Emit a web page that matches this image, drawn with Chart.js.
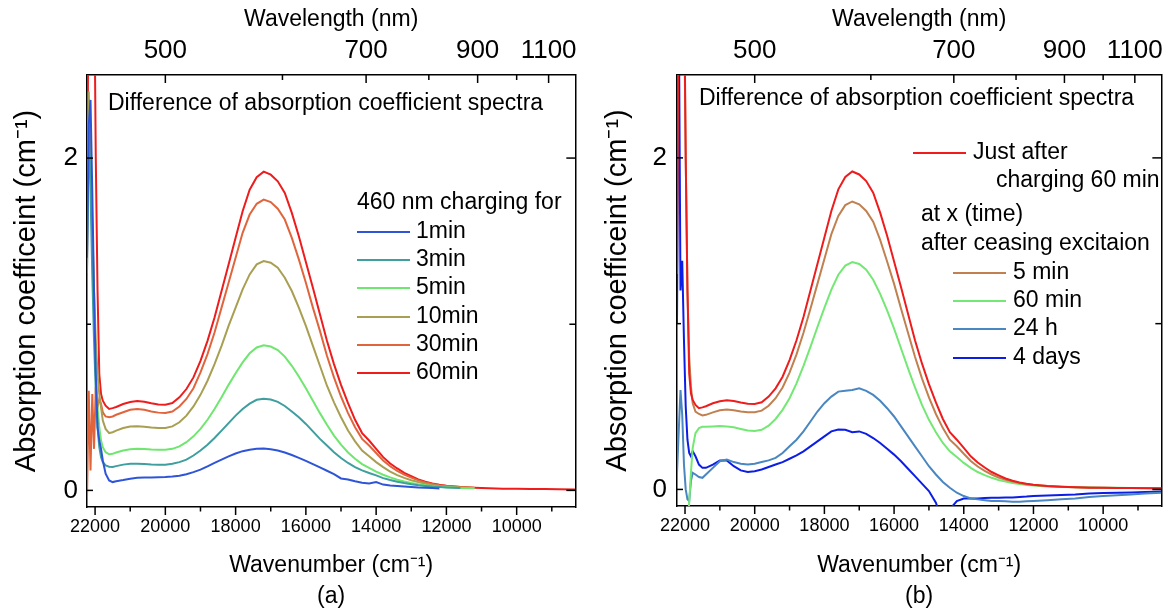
<!DOCTYPE html>
<html>
<head>
<meta charset="utf-8">
<title>Difference of absorption coefficient spectra</title>
<script src="https://cdn.jsdelivr.net/npm/chart.js@4.4.1/dist/chart.umd.min.js"></script>
<style>
  html, body { margin: 0; padding: 0; background: #fff; }
  #page { position: relative; width: 1172px; height: 612px; }
  canvas { position: absolute; top: 0; }
</style>
</head>
<body>
<div id="page">
  <canvas id="panelA" width="586" height="612" style="left:0"></canvas>
  <canvas id="panelB" width="586" height="612" style="left:586px"></canvas>
</div>
<script>
// wavenumber grid (cm-1) shared by every spectrum
const wavenumber = [
  22230, 22180, 22130, 22080, 22030, 21980, 21930, 21880, 21830, 21780,
  21700, 21600, 21500, 21400, 21200, 21000, 20800, 20600, 20400, 20200, 20000,
  19800, 19600, 19400, 19200, 19000, 18800, 18600, 18400, 18200, 18000,
  17800, 17600, 17400, 17200, 17000, 16800, 16600, 16400, 16200, 16000,
  15800, 15600, 15400, 15200, 15000, 14800, 14600, 14400, 14200, 14000,
  13800, 13600, 13400, 13200, 13000, 12800, 12600, 12400, 12200, 12000,
  11600, 11200, 10800, 10400, 10000, 9600, 9200, 8800, 8330
];

// (a) 460 nm charging for ...
const a_1min = [
  1.4, 2.2, 2.35, 1.8, 1.2, 0.7, 0.38, 0.3, 0.25, 0.18,
  0.1, 0.06, 0.05, 0.055, 0.062, 0.07, 0.076, 0.077, 0.078, 0.079, 0.08,
  0.083, 0.088, 0.097, 0.11, 0.125, 0.145, 0.165, 0.185, 0.205, 0.222,
  0.236, 0.245, 0.25, 0.252, 0.247, 0.24, 0.228, 0.213, 0.196, 0.178,
  0.158, 0.138, 0.118, 0.098, 0.072, 0.066, 0.055, 0.046, 0.042, 0.05,
  0.035, 0.03, 0.027, 0.024, 0.021, 0.018, 0.016, 0.014, 0.012, null,
  null, null, null, null, null, null, null, null, null
];
const a_3min = [
  1.3, 2.2, 1.8, 1.3, 0.9, 0.6, 0.38, 0.26, 0.2, 0.17,
  0.15, 0.142, 0.141, 0.146, 0.155, 0.16, 0.161, 0.159, 0.156, 0.155, 0.155,
  0.16, 0.17, 0.185, 0.21, 0.24, 0.275, 0.315, 0.36, 0.405, 0.45,
  0.49, 0.522, 0.545, 0.552, 0.547, 0.533, 0.508, 0.475, 0.44, 0.4,
  0.355, 0.31, 0.27, 0.23, 0.195, 0.165, 0.14, 0.12, 0.105, 0.09,
  0.074, 0.062, 0.052, 0.044, 0.037, 0.031, 0.027, 0.023, 0.02, 0.017,
  0.014, null, null, null, null, null, null, null, null
];
const a_5min = [
  1.5, 2.1, 1.9, 1.5, 1.1, 0.75, 0.5, 0.38, 0.3, 0.26,
  0.23, 0.217, 0.22, 0.228, 0.24, 0.248, 0.251, 0.249, 0.246, 0.244, 0.245,
  0.25, 0.265, 0.29, 0.325, 0.37, 0.425, 0.49, 0.56, 0.635, 0.705,
  0.77, 0.825, 0.86, 0.873, 0.866, 0.845, 0.805, 0.75, 0.685, 0.615,
  0.54, 0.465, 0.395, 0.33, 0.275, 0.228, 0.19, 0.158, 0.135, 0.113,
  0.094, 0.078, 0.064, 0.053, 0.044, 0.037, 0.031, 0.026, 0.022, 0.019,
  0.015, 0.013, null, null, null, null, null, null, null
];
const a_10min = [
  1.7, 2.4, 2.0, 1.6, 1.2, 0.9, 0.7, 0.58, 0.5, 0.42,
  0.37, 0.345, 0.35, 0.36, 0.375, 0.385, 0.386, 0.383, 0.378, 0.375, 0.375,
  0.385, 0.41, 0.45, 0.505, 0.575, 0.66, 0.76, 0.87, 0.99, 1.1,
  1.21, 1.3, 1.36, 1.38, 1.37, 1.34, 1.28, 1.2, 1.1, 0.99,
  0.87, 0.75, 0.63, 0.53, 0.44, 0.36, 0.295, 0.24, 0.205, 0.17,
  0.14, 0.113, 0.092, 0.075, 0.061, 0.05, 0.04, 0.033, 0.027, 0.023,
  0.018, 0.015, null, null, null, null, null, null, null
];
const a_30min = [
  -0.05, 0.6, 0.12, 0.58, 0.25, 0.62, 0.5, 0.55, 0.52, 0.47,
  0.445, 0.44, 0.445, 0.455, 0.47, 0.485, 0.49, 0.485, 0.475, 0.468, 0.466,
  0.475, 0.505, 0.55, 0.615, 0.71, 0.82, 0.95, 1.1, 1.25, 1.4,
  1.55, 1.66, 1.725, 1.75, 1.735, 1.695, 1.63, 1.52, 1.39, 1.25,
  1.1, 0.96, 0.81, 0.68, 0.565, 0.465, 0.38, 0.31, 0.27, 0.225,
  0.18, 0.145, 0.118, 0.095, 0.077, 0.06, 0.048, 0.038, 0.031, 0.026,
  0.02, 0.016, null, null, null, null, null, null, null
];
const a_60min = [
  1.3, 3.5, 3.5, 3.5, 3.2, 2.0, 1.2, 0.7, 0.58, 0.54,
  0.51, 0.49, 0.495, 0.502, 0.52, 0.532, 0.538, 0.534, 0.524, 0.517, 0.516,
  0.526, 0.56, 0.61, 0.68, 0.78, 0.9, 1.04, 1.2, 1.36, 1.52,
  1.68, 1.81, 1.885, 1.918, 1.9, 1.86, 1.79, 1.67, 1.53, 1.375,
  1.22, 1.06, 0.9, 0.76, 0.635, 0.525, 0.425, 0.345, 0.3, 0.25,
  0.2, 0.162, 0.132, 0.105, 0.085, 0.066, 0.052, 0.042, 0.034, 0.028,
  0.02, 0.016, 0.013, 0.01, 0.01, 0.008, 0.008, 0.007, 0.006
];

// (b) just after charging 60 min, then at x after ceasing excitation
const b_justAfter = a_60min;
const b_5min = [
  1.5, 3.5, 3.5, 3.5, 3.0, 2.0, 1.2, 0.8, 0.62, 0.52,
  0.47, 0.455, 0.446, 0.45, 0.465, 0.478, 0.482, 0.478, 0.47, 0.465, 0.466,
  0.475, 0.505, 0.55, 0.615, 0.705, 0.815, 0.945, 1.09, 1.24, 1.39,
  1.54, 1.65, 1.715, 1.737, 1.72, 1.68, 1.615, 1.505, 1.375, 1.24,
  1.09, 0.945, 0.8, 0.67, 0.555, 0.455, 0.37, 0.3, 0.26, 0.215,
  0.172, 0.138, 0.112, 0.09, 0.072, 0.058, 0.047, 0.038, 0.031, 0.026,
  0.02, 0.016, 0.013, 0.011, 0.01, 0.009, 0.009, 0.008, 0.008
];
const b_60min = [
  -0.3, -0.3, -0.3, -0.3, -0.3, -0.25, -0.2, -0.08, 0.1, 0.25,
  0.34, 0.37, 0.378, 0.378, 0.38, 0.382, 0.38, 0.375, 0.365, 0.355, 0.352,
  0.36, 0.385, 0.425, 0.48, 0.55, 0.64, 0.745, 0.86, 0.98, 1.095,
  1.205, 1.295, 1.35, 1.371, 1.36, 1.325, 1.265, 1.18, 1.08, 0.97,
  0.85, 0.73, 0.615, 0.51, 0.42, 0.345, 0.28, 0.23, 0.195, 0.16,
  0.13, 0.105, 0.086, 0.07, 0.057, 0.047, 0.039, 0.032, 0.027, 0.023,
  0.018, 0.015, 0.013, 0.011, 0.01, 0.01, 0.009, 0.009, 0.008
];
const b_24h = [
  0.1, 0.35, 0.6, 0.45, 0.15, 0.0, -0.06, -0.07, 0.05, 0.1,
  0.09, 0.075, 0.07, 0.09, 0.13, 0.17, 0.18, 0.165, 0.155, 0.15, 0.155,
  0.165, 0.175, 0.19, 0.22, 0.26, 0.3, 0.35, 0.41, 0.47, 0.52,
  0.56, 0.59, 0.595, 0.6, 0.61, 0.595, 0.57, 0.535, 0.49, 0.44,
  0.38, 0.32, 0.26, 0.2, 0.14, 0.09, 0.045, 0.01, -0.02, -0.04,
  -0.055, -0.06, -0.065, -0.07, -0.07, -0.072, -0.075, -0.075, -0.072, -0.07,
  -0.065, -0.06, -0.055, -0.045, -0.04, -0.035, -0.03, -0.025, -0.02
];
const b_4days = [
  1.0, 3.0, 1.2, 1.38, 0.9, 0.5, 0.3, 0.22, 0.2, 0.23,
  0.2, 0.15, 0.13, 0.13, 0.15, 0.175, 0.175, 0.14, 0.115, 0.105, 0.11,
  0.12, 0.135, 0.15, 0.165, 0.185, 0.205, 0.23, 0.26, 0.29, 0.32,
  0.35, 0.362, 0.36, 0.345, 0.35, 0.335, 0.31, 0.28, 0.245, 0.21,
  0.17, 0.125, 0.08, 0.035, -0.01, -0.08, -0.2, -0.12, -0.07, -0.055,
  -0.055, -0.055, -0.052, -0.05, -0.05, -0.048, -0.048, -0.045, -0.043, -0.04,
  -0.037, -0.033, -0.03, -0.025, -0.022, -0.02, -0.018, -0.015, -0.013
];

const aLabels = ['1min', '3min', '5min', '10min', '30min', '60min'];
const bLabels = ['Just after', '5 min', '60 min', '24 h', '4 days'];

// axes
const wavenumberTicks = [22000, 20000, 18000, 16000, 14000, 12000, 10000];
const wavenumberMinor = [21000, 19000, 17000, 15000, 13000, 11000, 9000];
const wavelengthTicks = [500, 700, 900, 1100];
const wavelengthMinor = [600, 800, 1000];
const yTicks = [0, 2];
const yMinor = [1];
const xRange = [8330, 22230];
const yRange = [-0.1, 2.5];

const FONT = "'Liberation Sans', Arial, sans-serif";
Chart.defaults.font.family = FONT;
Chart.defaults.color = '#000';

function points(series) {
  return wavenumber.map((w, i) => ({ x: w, y: series[i] }));
}

// inward / outward tick marks like the original frame
const tickMarks = {
  id: 'tickMarks',
  afterDraw(chart) {
    const { ctx, chartArea: a, scales: s } = chart;
    ctx.save();
    ctx.strokeStyle = '#000';
    ctx.lineWidth = 1.5;
    const seg = (x1, y1, x2, y2) => { ctx.beginPath(); ctx.moveTo(x1, y1); ctx.lineTo(x2, y2); ctx.stroke(); };
    wavenumberTicks.forEach(v => { const x = s.x.getPixelForValue(v); seg(x, a.bottom, x, a.bottom + 8); });
    wavenumberMinor.forEach(v => { const x = s.x.getPixelForValue(v); seg(x, a.bottom, x, a.bottom + 4.5); });
    wavelengthTicks.forEach(nm => { const x = s.x2.getPixelForValue(1e7 / nm); seg(x, a.top, x, a.top + 8); });
    wavelengthMinor.forEach(nm => { const x = s.x2.getPixelForValue(1e7 / nm); seg(x, a.top, x, a.top + 5); });
    yTicks.forEach(v => { const y = s.y.getPixelForValue(v); seg(a.left, y, a.left + 6, y); seg(a.right, y, a.right - 9, y); });
    yMinor.forEach(v => { const y = s.y.getPixelForValue(v); seg(a.left, y, a.left + 4, y); seg(a.right, y, a.right - 6, y); });
    ctx.restore();
  }
};

// free-placed legend + notes inside the plot
const spectraLegend = {
  id: 'spectraLegend',
  afterDraw(chart, args, opts) {
    const ctx = chart.ctx;
    ctx.save();
    ctx.font = '23px ' + FONT;
    ctx.fillStyle = '#000';
    ctx.textBaseline = 'middle';
    ctx.textAlign = 'left';
    (opts.notes || []).forEach(n => ctx.fillText(n.text, n.x, n.y));
    (opts.items || []).forEach(it => {
      const ds = chart.data.datasets[it.index];
      ctx.strokeStyle = ds.borderColor;
      ctx.lineWidth = 2;
      ctx.beginPath();
      ctx.moveTo(it.x, it.y);
      ctx.lineTo(it.x + opts.line, it.y);
      ctx.stroke();
      ctx.fillText(ds.label, it.x + opts.line + opts.gap, it.y);
    });
    ctx.restore();
  }
};

function makePanel(canvasId, cfg) {
  const W = 586, H = 612;
  const frame = { display: true, color: '#000', width: 1.5 };
  return new Chart(document.getElementById(canvasId), {
    type: 'line',
    data: {
      datasets: cfg.series.map(s => ({
        label: s.label,
        data: points(s.values),
        borderColor: s.color,
        borderWidth: 2,
        pointRadius: 0,
        tension: 0,
        fill: false,
        spanGaps: false
      }))
    },
    options: {
      responsive: false,
      animation: false,
      events: [],
      layout: { padding: 0 },
      scales: {
        x: {
          type: 'linear', position: 'bottom', reverse: true,
          min: xRange[0], max: xRange[1],
          grid: { display: false, drawTicks: false },
          border: frame,
          afterBuildTicks: sc => { sc.ticks = wavenumberTicks.map(v => ({ value: v })); },
          afterFit: sc => { sc.height = H - cfg.plot.bottom; },
          ticks: {
            font: { size: 18 }, padding: 9, maxRotation: 0, autoSkip: false,
            callback: v => String(v)
          },
          title: {
            display: true,
            text: ['Wavenumber (cm\u207B\u00B9)', cfg.tag],
            font: { size: 23, lineHeight: 1.35 },
            padding: { top: 0, bottom: 0 }
          }
        },
        x2: {
          type: 'linear', position: 'top', reverse: true,
          min: xRange[0], max: xRange[1],
          grid: { display: false, drawTicks: false },
          border: frame,
          afterBuildTicks: sc => { sc.ticks = wavelengthTicks.map(nm => ({ value: 1e7 / nm })); },
          afterFit: sc => { sc.height = cfg.plot.top; },
          ticks: {
            font: { size: 26 }, padding: 9, maxRotation: 0, autoSkip: false,
            callback: v => String(Math.round(1e7 / v))
          },
          title: {
            display: true, text: 'Wavelength (nm)',
            font: { size: 23 }, padding: { top: 6, bottom: 0 }
          }
        },
        y: {
          type: 'linear', position: 'left',
          min: yRange[0], max: yRange[1],
          grid: { display: false, drawTicks: false },
          border: frame,
          afterBuildTicks: sc => { sc.ticks = yTicks.map(v => ({ value: v })); },
          afterFit: sc => { sc.width = cfg.plot.left; },
          ticks: { font: { size: 26 }, padding: cfg.yPad },
          title: {
            display: true, text: 'Absorption coefficeint (cm\u207B\u00B9)',
            font: { size: 29 }, padding: { top: cfg.yTitlePad, bottom: 0 }
          }
        },
        y2: {
          type: 'linear', position: 'right',
          min: yRange[0], max: yRange[1],
          grid: { display: false, drawTicks: false },
          border: frame,
          ticks: { display: false },
          afterFit: sc => { sc.width = W - cfg.plot.right; }
        }
      },
      plugins: {
        legend: { display: false },
        tooltip: { enabled: false },
        title: { display: false },
        spectraLegend: cfg.legend
      }
    },
    plugins: [tickMarks, spectraLegend]
  });
}

makePanel('panelA', {
  tag: '(a)',
  plot: { left: 87, right: 578, top: 75, bottom: 507 },
  yPad: 9,
  yTitlePad: 10,
  series: [
    { label: aLabels[0], values: a_1min, color: '#2e55d8' },
    { label: aLabels[1], values: a_3min, color: '#3f9e9e' },
    { label: aLabels[2], values: a_5min, color: '#6fe66f' },
    { label: aLabels[3], values: a_10min, color: '#a89f52' },
    { label: aLabels[4], values: a_30min, color: '#e0653c' },
    { label: aLabels[5], values: a_60min, color: '#ee1c1c' }
  ],
  legend: {
    line: 53, gap: 6,
    notes: [
      { text: 'Difference of absorption coefficient spectra', x: 108, y: 104 },
      { text: '460 nm charging for', x: 357, y: 203 }
    ],
    items: [
      { index: 0, x: 357, y: 232 },
      { index: 1, x: 357, y: 260 },
      { index: 2, x: 357, y: 288 },
      { index: 3, x: 357, y: 317 },
      { index: 4, x: 357, y: 345 },
      { index: 5, x: 357, y: 373 }
    ]
  }
});

makePanel('panelB', {
  tag: '(b)',
  plot: { left: 91, right: 582, top: 75, bottom: 506 },
  yPad: 10,
  yTitlePad: 15,
  series: [
    { label: bLabels[0], values: b_justAfter, color: '#ee1c1c' },
    { label: bLabels[1], values: b_5min, color: '#c08050' },
    { label: bLabels[2], values: b_60min, color: '#74e874' },
    { label: bLabels[3], values: b_24h, color: '#4a86c0' },
    { label: bLabels[4], values: b_4days, color: '#0c1ee6' }
  ],
  legend: {
    line: 53, gap: 7,
    notes: [
      { text: 'Difference of absorption coefficient spectra', x: 113, y: 99 },
      { text: 'charging 60 min', x: 410, y: 181 },
      { text: 'at x (time)', x: 335, y: 215 },
      { text: 'after ceasing excitaion', x: 335, y: 244 }
    ],
    items: [
      { index: 0, x: 327, y: 153 },
      { index: 1, x: 367, y: 273 },
      { index: 2, x: 367, y: 301 },
      { index: 3, x: 367, y: 329 },
      { index: 4, x: 367, y: 358 }
    ]
  }
});
</script>
</body>
</html>
